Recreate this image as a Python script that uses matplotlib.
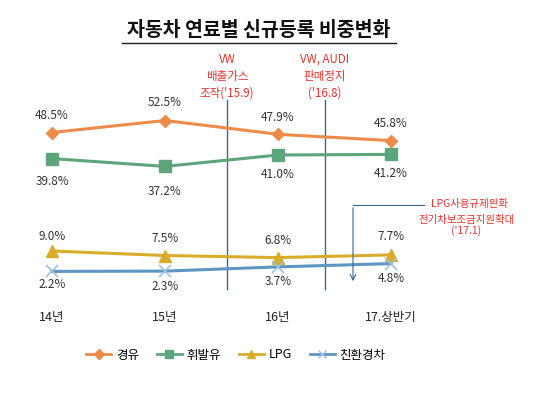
import matplotlib
matplotlib.use("Agg")
import matplotlib.pyplot as plt
from matplotlib.lines import Line2D

plt.rcParams['font.family'] = ['Noto Sans CJK KR', 'DejaVu Sans']

categories = ['14년', '15년', '16년', '17.상반기']
diesel = [48.5, 52.5, 47.9, 45.8]
gasoline = [39.8, 37.2, 41.0, 41.2]
lpg = [9.0, 7.5, 6.8, 7.7]
eco = [2.2, 2.3, 3.7, 4.8]
series_names = ['경유', '휘발유', 'LPG', '친환경차']

W, H = 540, 398
fig = plt.figure(figsize=(W / 100, H / 100), dpi=100)
ax = fig.add_axes([0, 0, 1, 1])
# pixel mapping: px = 52 + 113*x ; py = 278 - 3*v
def X(px):
    return (px - 52) / 113.0
def Y(py):
    return (278 - py) / 3.0
ax.set_xlim(X(0), X(W))
ax.set_ylim(Y(H), Y(0))
ax.axis('off')

xs = list(range(len(categories)))
c_orange = '#ee8a4a'
c_green = '#5da67c'
c_yellow = '#d9ad2b'
c_blue = '#5f95c2'
c_blue_m = '#9cc2e0'

ax.plot(xs, diesel, color=c_orange, lw=2.2, marker='D', ms=6, zorder=3)
ax.plot(xs, gasoline, color=c_green, lw=2.2, marker='s', ms=8, zorder=3)
ax.plot(xs, lpg, color=c_yellow, lw=2.2, marker='^', ms=8, zorder=3)
ax.plot(xs, eco, color=c_blue, lw=2.2, marker='x', ms=8, mew=1.2,
        markeredgecolor=c_blue_m, zorder=3)

txtc = '#333333'
fs = 8.5
offs_d = [17, 18, 17, 17]
for x, v, o in zip(xs, diesel, offs_d):
    ax.text(x, v + o / 3.0, f'{v:.1f}%', ha='center', va='center', fontsize=fs, color=txtc)
offs_g = [-23, -25, -19, -19]
for x, v, o in zip(xs, gasoline, offs_g):
    ax.text(x, v + o / 3.0, f'{v:.1f}%', ha='center', va='center', fontsize=fs, color=txtc)
offs_l = [15, 17, 17, 18]
for x, v, o in zip(xs, lpg, offs_l):
    ax.text(x, v + o / 3.0, f'{v:.1f}%', ha='center', va='center', fontsize=fs, color=txtc)
offs_e = [-13, -15, -15, -15]
for x, v, o in zip(xs, eco, offs_e):
    ax.text(x, v + o / 3.0, f'{v:.1f}%', ha='center', va='center', fontsize=fs, color=txtc)

for x, lab in zip(xs, categories):
    ax.text(x, Y(318), lab, ha='center', va='center', fontsize=9, color='#222222')

# event lines
vcol = '#3d6592'
ax.plot([X(227), X(227)], [Y(100), Y(289)], color=vcol, lw=1.0, zorder=2)
ax.plot([X(325), X(325)], [Y(100), Y(289)], color=vcol, lw=1.0, zorder=2)
ax.plot([X(424), X(353)], [Y(205), Y(205)], color=vcol, lw=0.8, zorder=2)
ax.annotate('', xy=(X(353), Y(284)), xytext=(X(353), Y(205)),
            arrowprops=dict(arrowstyle='->', color=vcol, lw=0.8))

red = '#e8312f'
efs = 8.3
for py, t in zip([59, 76, 93], ['VW', '배출가스', "조작('15.9)"]):
    ax.text(X(227), Y(py), t, ha='center', va='center', fontsize=efs, color=red)
for py, t in zip([59, 76, 93], ['VW, AUDI', '판매정지', "('16.8)"]):
    ax.text(X(325), Y(py), t, ha='center', va='center', fontsize=efs, color=red)
ax.text(X(469), Y(204), 'LPG사용규제완화', ha='center', va='center', fontsize=7.5, color=red)
ax.text(X(467), Y(220), '전기차보조금지원확대', ha='center', va='center', fontsize=7.5, color=red)
ax.text(X(466), Y(231), "('17.1)", ha='center', va='center', fontsize=7.5, color=red)

# title
fig.text(259 / W, 1 - 30 / H, '자동차 연료별 신규등록 비중변화', ha='center', va='center',
         fontsize=14, fontweight='bold', color='#111111')
fig.add_artist(Line2D([122 / W, 396 / W], [1 - 43 / H, 1 - 43 / H], color='#222222', lw=1.0))

handles = [
    Line2D([], [], color=c_orange, lw=2, marker='D', ms=5),
    Line2D([], [], color=c_green, lw=2, marker='s', ms=6),
    Line2D([], [], color=c_yellow, lw=2, marker='^', ms=6),
    Line2D([], [], color=c_blue, lw=2, marker='x', ms=6, markeredgecolor=c_blue_m),
]
fig.legend(handles, series_names, loc='center', bbox_to_anchor=(236 / W, 1 - 355 / H),
           ncol=4, frameon=False, fontsize=9, handlelength=2.0, columnspacing=1.4,
           handletextpad=0.4)

fig.savefig('out.png', dpi=100, facecolor='white')
